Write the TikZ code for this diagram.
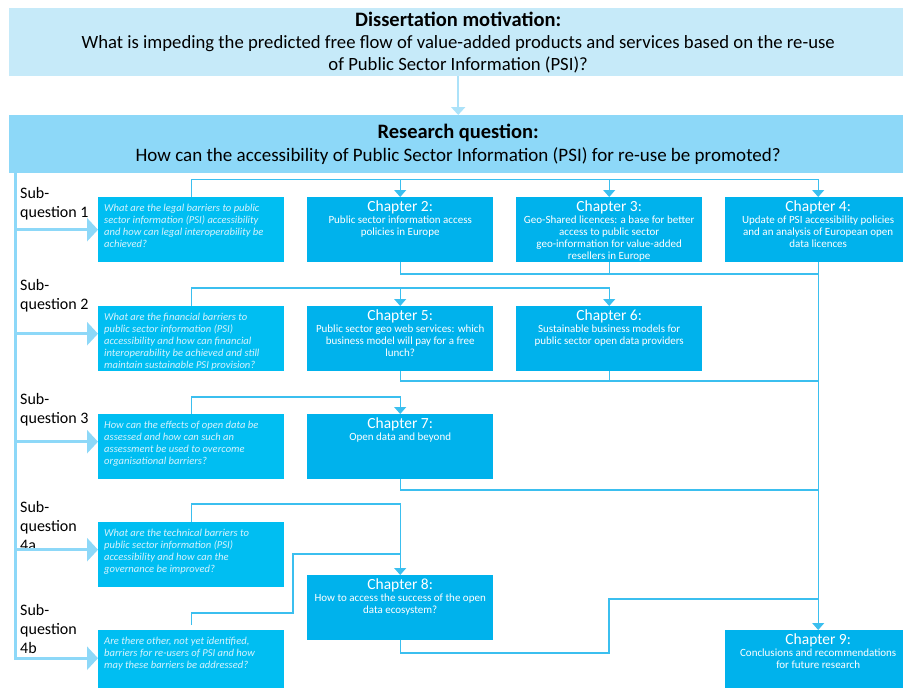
\documentclass[tikz,border=0pt]{standalone}
\usepackage{fontspec}
\setmainfont{Carlito}
\usetikzlibrary{arrows.meta}
\definecolor{motblue}{HTML}{C6EAF9}
\definecolor{rqblue}{HTML}{8DD8F8}
\definecolor{sqblue}{HTML}{00BEF2}
\definecolor{chblue}{HTML}{00B2EC}
\definecolor{lineblue}{HTML}{3BBFEF}
\definecolor{sqtext}{HTML}{D6F3FD}
\newcommand{\chaptxt}[2]{\parbox[c][57pt][t]{180pt}{\centering{\fontsize{15.5}{14}\selectfont #1}\\[0pt] #2}}
\newcommand{\questxt}[1]{\parbox[c][51pt][t]{174pt}{\raggedright #1}}

\begin{document}
\begin{tikzpicture}[x=1pt, y=-1pt,
    topbox/.style={anchor=north west, minimum width=898pt, align=center, inner sep=0pt},
    qbox/.style={anchor=north west, fill=sqblue, text=sqtext, inner xsep=6pt, inner ysep=7pt, font=\fontsize{10.6}{12}\selectfont\itshape},
    chbox/.style={anchor=north west, fill=chblue, text=white, inner xsep=3pt, inner ysep=4pt, font=\fontsize{11}{12}\selectfont},
    sublabel/.style={anchor=north west, align=left, inner sep=0pt, font=\fontsize{16}{19}\selectfont},
    flow/.style={lineblue, line width=1.2pt, -{Triangle[width=12pt,length=7pt]}},
    link/.style={lineblue, line width=1.2pt},
    feed/.style={rqblue, line width=3pt, line join=miter, -{Triangle[width=23pt,length=11pt]}}]
  \useasboundingbox (0,0) rectangle (903,688);
  \clip (0,0) rectangle (903,688);

  % motivation and research question
  \node[topbox, fill=motblue, minimum height=68pt, font=\fontsize{18.7}{22}\selectfont] (motiv) at (9,8)
    {{\fontsize{20.5}{22}\selectfont\bfseries Dissertation motivation:}\\
     What is impeding the predicted free flow of value-added products and services based on the re-use\\
     of Public Sector Information (PSI)?};
  \node[topbox, fill=rqblue, minimum height=58pt, font=\fontsize{19}{23}\selectfont] (rq) at (9,115)
    {{\fontsize{20.5}{22}\selectfont\bfseries Research question:}\\
     How can the accessibility of Public Sector Information (PSI) for re-use be promoted?};
  \draw[rqblue!45!motblue, line width=2pt, -{Triangle[width=14pt,length=8pt]}] (motiv.south) -- (rq.north);

  % sub-questions
  \node[sublabel] (lab1) at (20,187) {Sub-\\question 1};
  \node[sublabel] (lab2) at (20,279) {Sub-\\question 2};
  \node[sublabel] (lab3) at (20,393) {Sub-\\question 3};
  \node[sublabel] (laba) at (20,501) {Sub-\\question\\4a};
  \node[sublabel] (labb) at (20,604) {Sub-\\question\\4b};

  \node[qbox] (sq1) at (98,197) {\questxt{What are the legal barriers to public\\ sector information (PSI) accessibility\\ and how can legal interoperability be\\ achieved?}};
  \node[qbox] (sq2) at (98,306) {\questxt{What are the financial barriers to\\ public sector information (PSI)\\ accessibility and how can financial\\ interoperability be achieved and still\\ maintain sustainable PSI provision?}};
  \node[qbox] (sq3) at (98,414) {\questxt{How can the effects of open data be\\ assessed and how can such an\\ assessment be used to overcome\\ organisational barriers?}};
  \node[qbox] (sqa) at (98,522) {\questxt{What are the technical barriers to\\ public sector information (PSI)\\ accessibility and how can the\\ governance be improved?}};
  \node[qbox] (sqb) at (98,630) {\questxt{Are there other, not yet identified,\\ barriers for re-users of PSI and how\\ may these barriers be addressed?}};

  % chapters
  \node[chbox] (ch2) at (307,197) {\chaptxt{Chapter 2:}{Public sector information access\\ policies in Europe}};
  \node[chbox] (ch3) at (516,197) {\chaptxt{Chapter 3:}{Geo-Shared licences: a base for better\\ access to public sector\\ geo-information for value-added\\ resellers in Europe}};
  \node[chbox] (ch4) at (725,197) {\chaptxt{Chapter 4:}{Update of PSI accessibility policies\\ and an analysis of European open\\ data licences}};
  \node[chbox] (ch5) at (307,306) {\chaptxt{Chapter 5:}{Public sector geo web services: which\\ business model will pay for a free\\ lunch?}};
  \node[chbox] (ch6) at (516,306) {\chaptxt{Chapter 6:}{Sustainable business models for\\ public sector open data providers}};
  \node[chbox] (ch7) at (307,414) {\chaptxt{Chapter 7:}{Open data and beyond}};
  \node[chbox] (ch8) at (307,575) {\chaptxt{Chapter 8:}{How to access the success of the open\\ data ecosystem?}};
  \node[chbox] (ch9) at (725,630) {\chaptxt{Chapter 9:}{Conclusions and recommendations\\ for future research}};

  % feed arrows from the spine
  \coordinate (spine) at (15,173);
  \coordinate (in1) at (sq1.west);
  \coordinate (in2) at ([yshift=5pt]sq2.west);
  \coordinate (in3) at ([yshift=5pt]sq3.west);
  \coordinate (ina) at ([yshift=5pt]sqa.west);
  \coordinate (inb) at ([yshift=4.5pt]sqb.west);
  \draw[feed] (spine) -- (spine |- inb) -- (inb);
  \foreach \p in {in1,in2,in3,ina}
    \draw[feed] (spine |- \p) -- (\p);

  % buses
  \coordinate (bus1) at (0,179.5);
  \coordinate (out1) at (0,274);
  \coordinate (bus2) at (0,288);
  \coordinate (out2) at (0,381);
  \coordinate (bus3) at (0,397);
  \coordinate (out3) at (0,490);
  \coordinate (bus4) at (0,504);
  \coordinate (busb) at (0,554);
  \coordinate (out5) at (0,599);

  \draw[flow] (sq1.north) |- (bus1 -| ch4.north) -- (ch4.north);
  \draw[flow] (bus1 -| ch2.north) -- (ch2.north);
  \draw[flow] (bus1 -| ch3.north) -- (ch3.north);
  \draw[link] (ch2.south) |- (out1 -| ch4.south);
  \draw[link] (ch3.south) -- (ch3.south |- out1);

  \draw[flow] (sq2.north) |- (bus2 -| ch6.north) -- (ch6.north);
  \draw[flow] (bus2 -| ch5.north) -- (ch5.north);
  \draw[link] (ch5.south) |- (out2 -| ch4.south);
  \draw[link] (ch6.south) -- (ch6.south |- out2);

  \draw[flow] (sq3.north) |- (bus3 -| ch7.north) -- (ch7.north);
  \draw[link] (ch7.south) |- (out3 -| ch4.south);

  \draw[flow] (sqa.north) |- (bus4 -| ch8.north) -- (ch8.north);
  \draw[link] ([yshift=5pt]sqb.north) |- (293,613) |- (busb -| ch8.north);
  \draw[link] (ch8.south) |- (609,653) |- (out5 -| ch4.south);

  \draw[flow] (ch4.south) -- (ch9.north);
\end{tikzpicture}
\end{document}
